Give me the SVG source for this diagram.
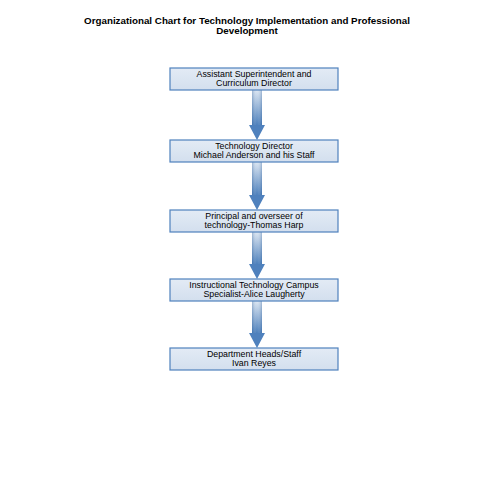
<svg xmlns="http://www.w3.org/2000/svg" width="495" height="495" viewBox="0 0 495 495">
<defs>
<linearGradient id="shaft" x1="0" y1="0" x2="0" y2="1">
<stop offset="0" stop-color="#dce6f2"/>
<stop offset="1" stop-color="#4a7ebb"/>
</linearGradient>
<linearGradient id="shade" x1="0" y1="0" x2="1" y2="0">
<stop offset="0" stop-color="#2c5d98" stop-opacity="0.35"/>
<stop offset="0.5" stop-color="#ffffff" stop-opacity="0"/>
<stop offset="1" stop-color="#2c5d98" stop-opacity="0.35"/>
</linearGradient>
<linearGradient id="box" x1="0" y1="0" x2="0" y2="1">
<stop offset="0" stop-color="#e3ebf5"/>
<stop offset="1" stop-color="#d3dfee"/>
</linearGradient>
</defs>
<style>
.title{font-family:"Liberation Sans",Arial,sans-serif;font-weight:bold;font-size:9.8px;fill:#000;text-anchor:middle}
.lbl{font-family:"Liberation Sans",Arial,sans-serif;font-size:8.8px;fill:#000;text-anchor:middle}
.node rect{fill:url(#box);stroke:#4f81bd;stroke-width:1.2}
.arrow .s{fill:url(#shaft)}
.arrow .h{fill:#4f81bd}
</style>
<rect width="495" height="495" fill="#fff"/>
<text class="title" x="247" y="24">Organizational Chart for Technology Implementation and Professional</text>
<text class="title" x="247" y="34">Development</text>
<g id="connectors">
<g class="arrow"><rect class="s" x="252" y="90" width="10" height="35"/><rect x="252" y="90" width="10" height="35" fill="url(#shade)"/><polygon class="h" points="249,125 265,125 257,140"/></g>
<g class="arrow"><rect class="s" x="252" y="162" width="10" height="33"/><rect x="252" y="162" width="10" height="33" fill="url(#shade)"/><polygon class="h" points="249,195 265,195 257,210"/></g>
<g class="arrow"><rect class="s" x="252" y="232" width="10" height="32"/><rect x="252" y="232" width="10" height="32" fill="url(#shade)"/><polygon class="h" points="249,264 265,264 257,279"/></g>
<g class="arrow"><rect class="s" x="252" y="301" width="10" height="32"/><rect x="252" y="301" width="10" height="32" fill="url(#shade)"/><polygon class="h" points="249,333 265,333 257,348"/></g>
</g>
<g id="n1" class="node"><rect x="170" y="68" width="168" height="22"/><text class="lbl" x="254" y="77">Assistant Superintendent and</text><text class="lbl" x="254" y="86">Curriculum Director</text></g>
<g id="n2" class="node"><rect x="170" y="140" width="168" height="22"/><text class="lbl" x="254" y="149">Technology Director</text><text class="lbl" x="254" y="158">Michael Anderson and his Staff</text></g>
<g id="n3" class="node"><rect x="170" y="210" width="168" height="22"/><text class="lbl" x="254" y="219">Principal and overseer of</text><text class="lbl" x="254" y="228">technology-Thomas Harp</text></g>
<g id="n4" class="node"><rect x="170" y="279" width="168" height="22"/><text class="lbl" x="254" y="288">Instructional Technology Campus</text><text class="lbl" x="254" y="297">Specialist-Alice Laugherty</text></g>
<g id="n5" class="node"><rect x="170" y="348" width="168" height="22"/><text class="lbl" x="254" y="357">Department Heads/Staff</text><text class="lbl" x="254" y="366">Ivan Reyes</text></g>
</svg>
